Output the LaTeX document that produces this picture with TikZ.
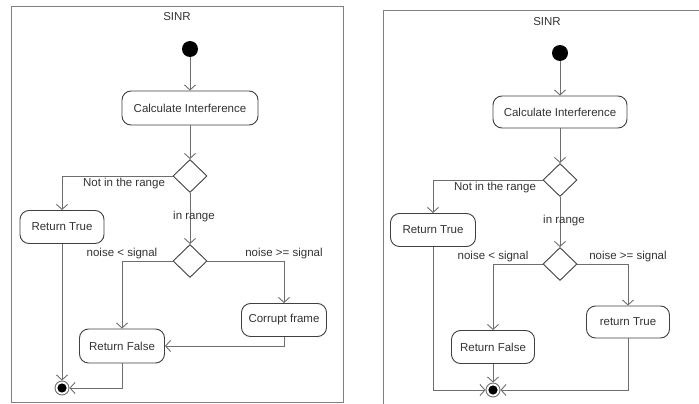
\documentclass[tikz,border=0pt]{standalone}
\usepackage{fontspec}
\setmainfont{Liberation Sans}
\usetikzlibrary{arrows.meta,shapes.geometric}
\definecolor{ink}{HTML}{333333}
\definecolor{edge}{HTML}{6E6E6E}
\begin{document}
\begin{tikzpicture}[x=1pt,y=-1pt,
  txt/.style={font=\fontsize{11.5}{13}\selectfont, text=ink},
  action/.style={txt, draw=black!75, rounded corners=9pt, line width=0.9pt,
    minimum height=33pt, inner sep=0pt},
  decision/.style={draw=black!75, diamond, minimum width=34pt, minimum height=33pt,
    inner sep=0pt, line width=0.9pt},
  initial/.style={circle, fill=black, minimum size=16pt, inner sep=0pt},
  final/.style={circle, draw=edge, line width=0.9pt, minimum size=14pt, inner sep=0pt,
    path picture={\fill[black] (path picture bounding box.center) circle (4.6pt);}},
  flow/.style={draw=edge, line width=0.9pt, -{Straight Barb[length=5pt,width=11pt]}},
  lbl/.style={txt, inner sep=0pt},
  frame/.style={draw=black!50, line width=1pt},
]
\useasboundingbox (0,0) rectangle (699,404);
\fill[white] (0,0) rectangle (699,404);

% ---------- left activity ----------
\draw[frame] (11,7) rectangle (343,402.5);
\node[lbl] (t1) at (177,17) {SINR};

\node[initial] (s1) at (190,49) {};
\node[action, minimum width=136pt, minimum height=34pt] (ci1) at (190,108) {Calculate Interference};
\node[decision] (d1a) at (190,176) {};
\node[action, minimum width=84pt] (rt1) at (62,227) {Return True};
\node[decision] (d1b) at (190,261) {};
\node[action, minimum width=85pt, minimum height=34pt] (rf1) at (122,346) {Return False};
\node[action, minimum width=85pt] (cf1) at (284,320) {Corrupt frame};
\node[final] (f1) at (62,388) {};

\draw[flow] (s1) -- (ci1);
\draw[flow] (ci1) -- (d1a);
\draw[flow] (d1a.west) -| (rt1);
\draw[flow] (d1a) -- (d1b);
\draw[flow] (d1b.west) -| (rf1);
\draw[flow] (d1b.east) -| (cf1);
\draw[flow] (cf1.south) |- (rf1.east);
\draw[flow] (rt1) -- (f1);
\draw[flow] (rf1.south) |- (f1.east);

\node[lbl] (l1a) at (124,184) {Not in the range};
\node[lbl] (l1b) at (194,217) {in range};
\node[lbl] (l1c) at (122,254) {noise < signal};
\node[lbl] (l1d) at (284,254) {noise >= signal};

% ---------- right activity ----------
\draw[frame] (383,405) -- (383,11) -- (700,11);
\node[lbl] (t2) at (547,22) {SINR};

\node[initial] (s2) at (560,53) {};
\node[action, minimum width=134pt, minimum height=32pt] (ci2) at (560,112) {Calculate Interference};
\node[decision] (d2a) at (560,180) {};
\node[action, minimum width=85pt] (rt2) at (433,230) {Return True};
\node[decision] (d2b) at (560,264) {};
\node[action, minimum width=83pt] (rf2) at (493,347) {Return False};
\node[action, minimum width=83pt, minimum height=32pt] (rc2) at (628,322) {return True};
\node[final] (f2) at (493,390) {};

\draw[flow] (s2) -- (ci2);
\draw[flow] (ci2) -- (d2a);
\draw[flow] (d2a.west) -| (rt2);
\draw[flow] (d2a) -- (d2b);
\draw[flow] (d2b.west) -| (rf2);
\draw[flow] (d2b.east) -| (rc2);
\draw[flow] (rf2) -- (f2);
\draw[flow] (rt2.south) |- (f2.west);
\draw[flow] (rc2.south) |- (f2.east);

\node[lbl] (l2a) at (495,188) {Not in the range};
\node[lbl] (l2b) at (564,221) {in range};
\node[lbl] (l2c) at (493,257) {noise < signal};
\node[lbl] (l2d) at (628,257) {noise >= signal};
\end{tikzpicture}
\end{document}
